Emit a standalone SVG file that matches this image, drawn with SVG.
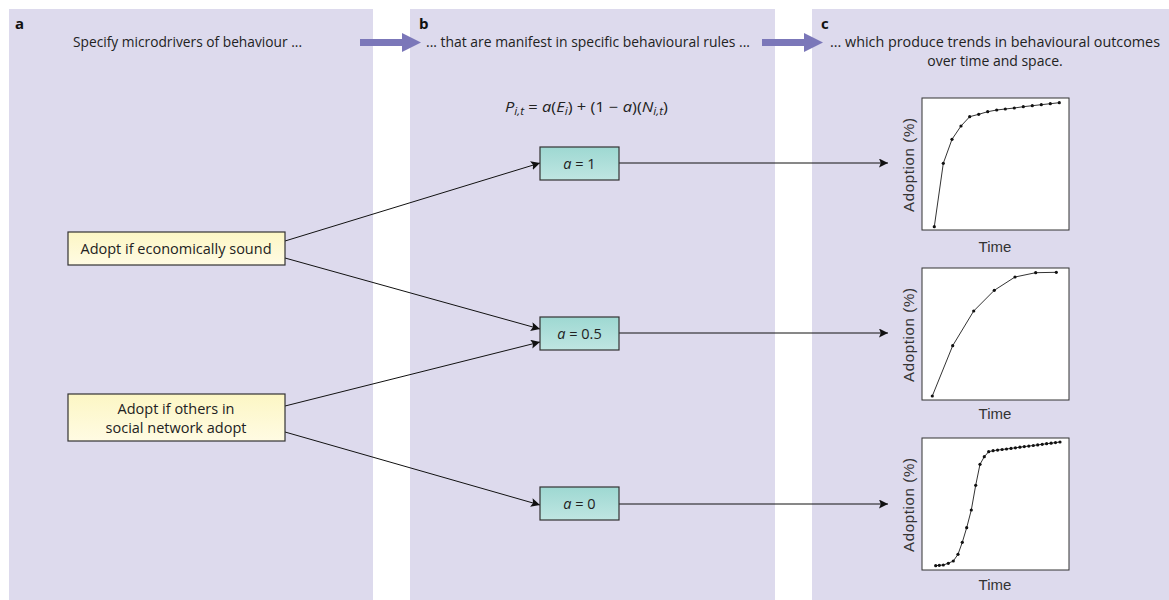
<svg xmlns="http://www.w3.org/2000/svg" width="1169" height="600" viewBox="0 0 1169 600">
<defs>
<linearGradient id="gTeal" x1="0" y1="0" x2="0" y2="1"><stop offset="0" stop-color="#9ed8d2"/><stop offset="1" stop-color="#bfe6e2"/></linearGradient>
<linearGradient id="gYel" x1="0" y1="0" x2="0" y2="1"><stop offset="0" stop-color="#fcf6c4"/><stop offset="1" stop-color="#fffbe3"/></linearGradient>
<marker id="ah" viewBox="0 0 10 10" refX="10" refY="5" markerWidth="9" markerHeight="9" markerUnits="userSpaceOnUse" orient="auto"><path d="M0,0 L10,5 L0,10 L2,5 Z" fill="#111"/></marker>
<style>
.panel{fill:#dddaed}
.hdr{font-family:"Open Sans","Noto Sans",sans-serif;font-size:14px;fill:#222}
.lbl{font-family:"Open Sans","Noto Sans",sans-serif;font-size:15px;font-weight:bold;fill:#111}
.node{font-family:"Open Sans","Noto Sans",sans-serif;font-size:14.5px;fill:#222}
.ax{font-family:"Liberation Sans",Arial,sans-serif;font-size:15px;fill:#333}
.conn{stroke:#111;stroke-width:1;fill:none;marker-end:url(#ah)}
.box{stroke:#333;stroke-width:1.2}
.chart{fill:#fff;stroke:#333;stroke-width:1}
.curve{fill:none;stroke:#333;stroke-width:1}
.pt{fill:#111}
.big{fill:#7b77b9}
</style>
</defs>
<rect width="1169" height="600" fill="#fff"/>
<g id="panels">
<rect class="panel" x="9" y="9" width="364" height="591"/>
<rect class="panel" x="410" y="9" width="365" height="591"/>
<rect class="panel" x="812" y="9" width="357" height="591"/>
</g>
<g id="headers">
<text class="lbl" x="15" y="29">a</text>
<text class="lbl" x="419" y="29">b</text>
<text class="lbl" x="821" y="29">c</text>
<text class="hdr" x="73" y="47" textLength="229" lengthAdjust="spacingAndGlyphs">Specify microdrivers of behaviour ...</text>
<text class="hdr" x="426" y="47" textLength="324" lengthAdjust="spacingAndGlyphs">... that are manifest in specific behavioural rules ...</text>
<text class="hdr" x="830" y="47" textLength="330" lengthAdjust="spacingAndGlyphs">... which produce trends in behavioural outcomes</text>
<text class="hdr" x="995" y="66" text-anchor="middle">over time and space.</text>
<text class="hdr" x="505" y="112" textLength="163" lengthAdjust="spacingAndGlyphs"><tspan font-style="italic">P</tspan><tspan font-style="italic" font-size="10" dy="3">i,t</tspan><tspan dy="-3"> = </tspan><tspan font-style="italic">a</tspan>(<tspan font-style="italic">E</tspan><tspan font-style="italic" font-size="10" dy="3">i</tspan><tspan dy="-3">) + (1 − </tspan><tspan font-style="italic">a</tspan>)(<tspan font-style="italic">N</tspan><tspan font-style="italic" font-size="10" dy="3">i,t</tspan><tspan dy="-3">)</tspan></text>
</g>
<g id="flow-arrows">
<rect class="big" x="360" y="39" width="45" height="7"/>
<polygon class="big" points="402,33 421,42.5 402,52"/>
<rect class="big" x="762" y="39" width="45" height="7"/>
<polygon class="big" points="804,33 823,42.5 804,52"/>
</g>
<g id="connectors">
<line class="conn" x1="285" y1="241" x2="540" y2="163"/>
<line class="conn" x1="285" y1="258" x2="540" y2="329"/>
<line class="conn" x1="285" y1="406" x2="540" y2="342"/>
<line class="conn" x1="285" y1="432" x2="540" y2="505"/>
<line class="conn" x1="619" y1="163" x2="888" y2="163"/>
<line class="conn" x1="619" y1="333" x2="888" y2="333"/>
<line class="conn" x1="619" y1="504" x2="888" y2="504"/>
</g>
<g id="node-econ">
<rect class="box" x="68" y="232" width="217" height="33" fill="url(#gYel)"/>
<text class="node" x="176" y="254" text-anchor="middle">Adopt if economically sound</text>
</g>
<g id="node-social">
<rect class="box" x="68" y="394" width="217" height="47" fill="url(#gYel)"/>
<text class="node" x="176" y="414" text-anchor="middle">Adopt if others in</text>
<text class="node" x="176" y="433" text-anchor="middle">social network adopt</text>
</g>
<g id="node-a1">
<rect class="box" x="540" y="147" width="79" height="33" fill="url(#gTeal)"/>
<text class="node" x="579.5" y="169" text-anchor="middle"><tspan font-style="italic">a</tspan> = 1</text>
</g>
<g id="node-a05">
<rect class="box" x="540" y="317" width="79" height="33" fill="url(#gTeal)"/>
<text class="node" x="579.5" y="339" text-anchor="middle"><tspan font-style="italic">a</tspan> = 0.5</text>
</g>
<g id="node-a0">
<rect class="box" x="540" y="487" width="79" height="33" fill="url(#gTeal)"/>
<text class="node" x="579.5" y="509" text-anchor="middle"><tspan font-style="italic">a</tspan> = 0</text>
</g>
<g id="chart1">
<rect class="chart" x="922" y="98" width="147" height="132"/>
<polyline class="curve" points="934.3,226.7 943.3,163.3 952,139.3 961,126 969.7,116.7 978.7,114.3 987.7,111.7 996.7,110 1005.3,109 1014.3,108 1023.3,106.7 1032.3,105.7 1041.3,104.7 1050.3,103.7 1059.3,102.7"/>
<g class="pt">
<circle cx="934.3" cy="226.7" r="1.6"/><circle cx="943.3" cy="163.3" r="1.6"/><circle cx="952" cy="139.3" r="1.6"/><circle cx="961" cy="126" r="1.6"/><circle cx="969.7" cy="116.7" r="1.6"/><circle cx="978.7" cy="114.3" r="1.6"/><circle cx="987.7" cy="111.7" r="1.6"/><circle cx="996.7" cy="110" r="1.6"/><circle cx="1005.3" cy="109" r="1.6"/><circle cx="1014.3" cy="108" r="1.6"/><circle cx="1023.3" cy="106.7" r="1.6"/><circle cx="1032.3" cy="105.7" r="1.6"/><circle cx="1041.3" cy="104.7" r="1.6"/><circle cx="1050.3" cy="103.7" r="1.6"/><circle cx="1059.3" cy="102.7" r="1.6"/>
</g>
<text class="ax" x="995" y="252" text-anchor="middle">Time</text>
<text class="ax" transform="translate(914,165) rotate(-90)" x="-47" textLength="94" lengthAdjust="spacing">Adoption (%)</text>
</g>
<g id="chart2">
<rect class="chart" x="922" y="268" width="147" height="132"/>
<polyline class="curve" points="932.3,396 952.7,345.7 973.7,311 994.3,290.3 1015,277 1035.7,272.7 1056.3,272.3"/>
<g class="pt">
<circle cx="932.3" cy="396" r="1.6"/><circle cx="952.7" cy="345.7" r="1.6"/><circle cx="973.7" cy="311" r="1.6"/><circle cx="994.3" cy="290.3" r="1.6"/><circle cx="1015" cy="277" r="1.6"/><circle cx="1035.7" cy="272.7" r="1.6"/><circle cx="1056.3" cy="272.3" r="1.6"/>
</g>
<text class="ax" x="995" y="419" text-anchor="middle">Time</text>
<text class="ax" transform="translate(914,335) rotate(-90)" x="-47" textLength="94" lengthAdjust="spacing">Adoption (%)</text>
</g>
<g id="chart3">
<rect class="chart" x="922" y="438" width="147" height="132"/>
<polyline class="curve" points="935.7,565.7 939.3,565.3 943.3,565 948.3,563.3 953.3,561 958,554.3 962.3,542.3 966.7,527.7 971.3,510 975.7,485.3 980,464.3 984.3,456.7 988.7,451.7 993.1,450.7 997.6,450.1 1002.1,449.5 1006.5,449 1011,448.4 1015.4,447.8 1019.9,447.2 1024.3,446.6 1028.8,446.1 1033.3,445.5 1037.7,444.9 1042.2,444.3 1046.6,443.7 1051.1,443.2 1055.5,442.6 1060,442"/>
<g class="pt">
<circle cx="935.7" cy="565.7" r="1.6"/><circle cx="939.3" cy="565.3" r="1.6"/><circle cx="943.3" cy="565" r="1.6"/><circle cx="948.3" cy="563.3" r="1.6"/><circle cx="953.3" cy="561" r="1.6"/><circle cx="958" cy="554.3" r="1.6"/><circle cx="962.3" cy="542.3" r="1.6"/><circle cx="966.7" cy="527.7" r="1.6"/><circle cx="971.3" cy="510" r="1.6"/><circle cx="975.7" cy="485.3" r="1.6"/><circle cx="980" cy="464.3" r="1.6"/><circle cx="984.3" cy="456.7" r="1.6"/><circle cx="988.7" cy="451.7" r="1.6"/><circle cx="993.1" cy="450.7" r="1.6"/><circle cx="997.6" cy="450.1" r="1.6"/><circle cx="1002.1" cy="449.5" r="1.6"/><circle cx="1006.5" cy="449" r="1.6"/><circle cx="1011" cy="448.4" r="1.6"/><circle cx="1015.4" cy="447.8" r="1.6"/><circle cx="1019.9" cy="447.2" r="1.6"/><circle cx="1024.3" cy="446.6" r="1.6"/><circle cx="1028.8" cy="446.1" r="1.6"/><circle cx="1033.3" cy="445.5" r="1.6"/><circle cx="1037.7" cy="444.9" r="1.6"/><circle cx="1042.2" cy="444.3" r="1.6"/><circle cx="1046.6" cy="443.7" r="1.6"/><circle cx="1051.1" cy="443.2" r="1.6"/><circle cx="1055.5" cy="442.6" r="1.6"/><circle cx="1060" cy="442" r="1.6"/>
</g>
<text class="ax" x="995" y="590" text-anchor="middle">Time</text>
<text class="ax" transform="translate(914,505) rotate(-90)" x="-47" textLength="94" lengthAdjust="spacing">Adoption (%)</text>
</g>
</svg>
